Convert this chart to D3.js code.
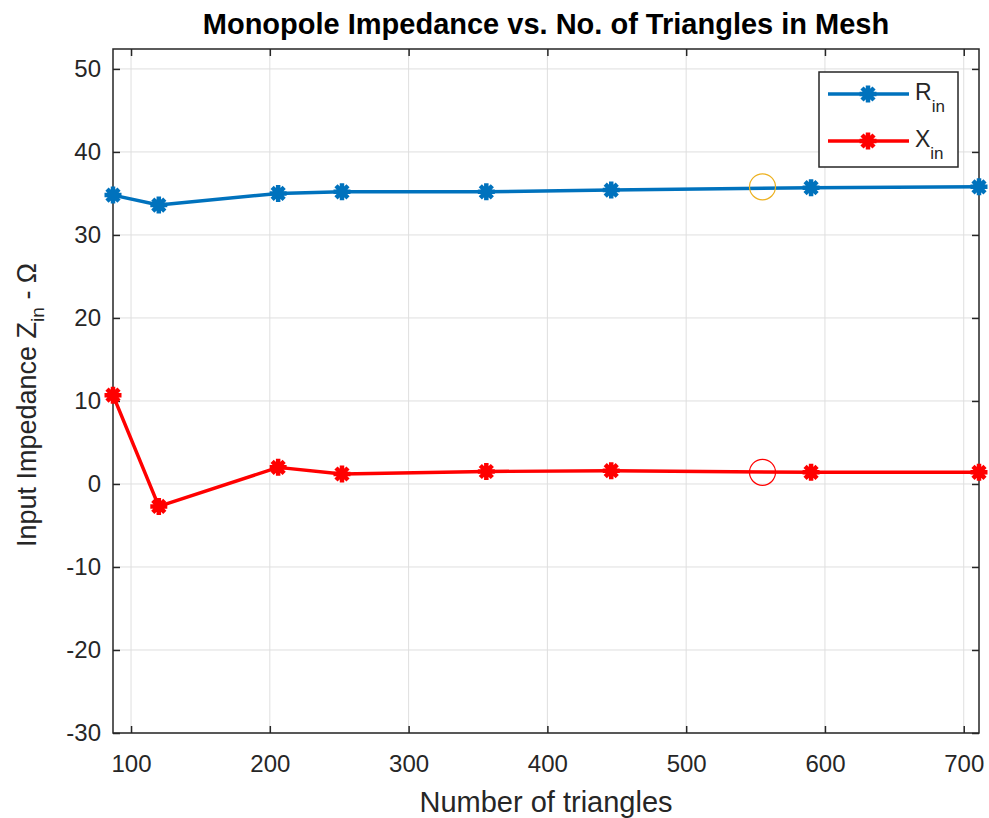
<!DOCTYPE html>
<html>
<head>
<meta charset="utf-8">
<script src="https://cdn.jsdelivr.net/npm/d3@7"></script>
<style>
  html, body { margin: 0; padding: 0; background: #fff; }
  svg { display: block; font-family: Arial, "Liberation Sans", Helvetica, sans-serif; }
</style>
</head>
<body>
<svg id="chart" width="989" height="818"></svg>
<script>
// ---- data ----
const triangles = [87, 120, 206, 252, 356, 446, 590, 711];
const Rin = [34.8, 33.6, 35.0, 35.2, 35.2, 35.4, 35.7, 35.8];
const Xin = [10.7, -2.7, 2.0, 1.2, 1.5, 1.6, 1.4, 1.4];
const markedX = [555];
const markedR = [35.8];
const markedXin = [1.4];
const xTicks = [100, 200, 300, 400, 500, 600, 700];
const yTicks = [-30, -20, -10, 0, 10, 20, 30, 40, 50];
const xDomain = [87, 711];
const yDomain = [-30, 52.4];

const svg = d3.select("#chart");
const L = 113, R = 979, T = 49, B = 733;
const x = d3.scaleLinear().domain(xDomain).range([L, R]);
const y = d3.scaleLinear().domain(yDomain).range([B, T]);
const axisColor = "#262626";

// grid
const g = svg.append("g");
g.selectAll(".vg").data(xTicks).join("line")
  .attr("x1", d => x(d)).attr("x2", d => x(d)).attr("y1", T).attr("y2", B)
  .attr("stroke", "#dfdfdf").attr("stroke-width", 1);
g.selectAll(".hg").data(yTicks).join("line")
  .attr("x1", L).attr("x2", R).attr("y1", d => y(d)).attr("y2", d => y(d))
  .attr("stroke", "#dfdfdf").attr("stroke-width", 1);

// axes using d3 axes (ticks inward)
const tickLen = 7;
const xAxisB = d3.axisBottom(x).tickValues(xTicks).tickSizeInner(-tickLen).tickSizeOuter(0);
const xAxisT = d3.axisTop(x).tickValues(xTicks).tickSizeInner(-tickLen).tickSizeOuter(0).tickFormat("");
const yAxisL = d3.axisLeft(y).tickValues(yTicks).tickSizeInner(-tickLen).tickSizeOuter(0);
const yAxisR = d3.axisRight(y).tickValues(yTicks).tickSizeInner(-tickLen).tickSizeOuter(0).tickFormat("");

function styleAxis(sel) {
  sel.select(".domain").remove();
  sel.selectAll(".tick line").attr("stroke", axisColor).attr("stroke-width", 1.5);
  sel.selectAll(".tick text").attr("fill", axisColor).attr("font-size", 24);
}
svg.append("g").attr("transform", `translate(0,${B})`).call(xAxisB).call(styleAxis)
  .selectAll(".tick text").attr("dy", null).attr("y", 39);
svg.append("g").attr("transform", `translate(0,${T})`).call(xAxisT).call(styleAxis);
svg.append("g").attr("transform", `translate(${L},0)`).call(yAxisL).call(styleAxis)
  .selectAll(".tick text").attr("x", -12).text(d => d < 0 ? "-" + Math.abs(d) : d);
svg.append("g").attr("transform", `translate(${R},0)`).call(yAxisR).call(styleAxis);

// box
svg.append("rect").attr("x", L).attr("y", T).attr("width", R - L).attr("height", B - T)
  .attr("fill", "none").attr("stroke", axisColor).attr("stroke-width", 1.5);

// asterisk marker path
function asterisk(r) {
  const d = r * Math.SQRT1_2;
  return `M${-r},0L${r},0M0,${-r}L0,${r}M${-d},${-d}L${d},${d}M${-d},${d}L${d},${-d}`;
}

const series = [
  { name: "R", vals: Rin, color: "#0072BD" },
  { name: "X", vals: Xin, color: "#FF0000" }
];
const line = d3.line().x(d => x(d[0])).y(d => y(d[1]));
series.forEach(s => {
  const pts = triangles.map((t, i) => [t, s.vals[i]]);
  svg.append("path").datum(pts).attr("d", line)
    .attr("fill", "none").attr("stroke", s.color).attr("stroke-width", 3.5)
    .attr("stroke-linejoin", "round");
  svg.append("g").selectAll("path").data(pts).join("path")
    .attr("transform", d => `translate(${x(d[0])},${y(d[1])})`)
    .attr("d", asterisk(8.5))
    .attr("stroke", s.color).attr("stroke-width", 4.5).attr("fill", "none");
});

// highlighted circles
svg.append("circle").attr("cx", x(markedX[0])).attr("cy", y(markedR[0])).attr("r", 13)
  .attr("fill", "none").attr("stroke", "#EDB120").attr("stroke-width", 1.2);
svg.append("circle").attr("cx", x(markedX[0])).attr("cy", y(markedXin[0])).attr("r", 13)
  .attr("fill", "none").attr("stroke", "#FF0000").attr("stroke-width", 1.2);

// legend
const lg = svg.append("g");
lg.append("rect").attr("x", 819).attr("y", 72).attr("width", 139).attr("height", 95)
  .attr("fill", "#fff").attr("stroke", axisColor).attr("stroke-width", 1.5);
const legendItems = [
  { label: "R", color: "#0072BD", y: 94 },
  { label: "X", color: "#FF0000", y: 141 }
];
legendItems.forEach(it => {
  lg.append("line").attr("x1", 828).attr("x2", 909).attr("y1", it.y).attr("y2", it.y)
    .attr("stroke", it.color).attr("stroke-width", 3.5);
  lg.append("path").attr("transform", `translate(868,${it.y})`).attr("d", asterisk(8.5))
    .attr("stroke", it.color).attr("stroke-width", 4.5).attr("fill", "none");
  const t = lg.append("text").attr("x", 915).attr("y", it.y + 6).attr("fill", axisColor)
    .attr("font-size", 23);
  t.append("tspan").text(it.label);
  t.append("tspan").attr("font-size", 17).attr("dy", 12).text("in");
});

// title
svg.append("text").attr("x", (L + R) / 2).attr("y", 34).attr("text-anchor", "middle")
  .attr("font-size", 29).attr("font-weight", "bold").attr("fill", "#000")
  .text("Monopole Impedance vs. No. of Triangles in Mesh");

// x label
svg.append("text").attr("x", (L + R) / 2).attr("y", 812).attr("text-anchor", "middle")
  .attr("font-size", 29).attr("fill", axisColor).text("Number of triangles");

// y label
const yl = svg.append("text").attr("transform", `translate(36,${(T + B) / 2 + 14}) rotate(-90)`)
  .attr("text-anchor", "middle").attr("font-size", 27).attr("fill", axisColor);
yl.append("tspan").text("Input Impedance Z");
yl.append("tspan").attr("font-size", 19).attr("dy", 8).text("in");
yl.append("tspan").attr("dy", -8).text(" - Ω");
</script>
</body>
</html>
